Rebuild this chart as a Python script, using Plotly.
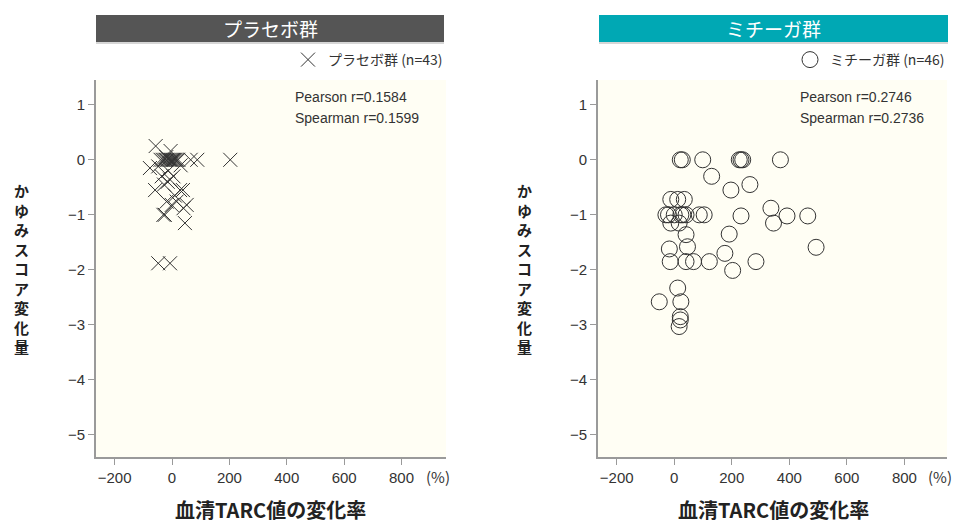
import plotly.graph_objects as go

# プラセボ群 (n=43): TARC change rate (%) vs itch score change
placebo_x = [-40, -33, -27, -22, -17, -12, -8, -4, 0, 4, 8, 12, 17, 22, 65, 88, 203,
             -57, -5, -77, -48, -13, -36, 5, -7, -28, -59, 38, -19, 16, -1, 51, 40,
             -30, -25, 45, -48, -7, 10, -15, 30, -20, 28]
placebo_y = [0, 0, 0, 0, 0, 0, 0, 0, 0, 0, 0, 0, 0, 0, 0, 0, 0,
             0.25, 0.16, -0.15, -0.12, -0.2, -0.3, -0.3, -0.36, -0.45, -0.55, -0.55, -0.76, -0.76, -0.82, -0.82, -0.88,
             -1.0, -1.0, -1.15, -1.88, -1.88, -0.65, -0.4, -0.1, 0.05, -0.55]

# ミチーガ群 (n=46)
mitchga_x = [21, 28, 99, 226, 232, 238, 369, 130, 197, 263, 336, 392, 464, 232, 345, 493,
             -12, 12, 35, -29, -20, 0, 23, 41, 87, 104, 30, -12, 17, 41, 191, -17, 46, 176,
             -14, 41, 67, 122, 284, 203, 12, -52, 23, 21, 21, 17]
mitchga_y = [0, 0, 0, 0, 0, 0, 0, -0.30, -0.55, -0.45, -0.88, -1.02, -1.02, -1.02, -1.15, -1.59,
             -0.72, -0.72, -0.72, -1.0, -1.0, -1.0, -1.0, -1.0, -1.0, -1.0, -1.0, -1.15, -1.15, -1.36, -1.35, -1.62, -1.58, -1.70,
             -1.85, -1.85, -1.85, -1.85, -1.85, -2.01, -2.33, -2.58, -2.58, -2.85, -2.91, -3.03]

x_ticks = [-200, 0, 200, 400, 600, 800]
x_ticktext = ["−200", "0", "200", "400", "600", "800"]
y_ticks = [1, 0, -1, -2, -3, -4, -5]
y_ticktext = ["1", "0", "−1", "−2", "−3", "−4", "−5"]

# page has an 8px body margin, so the figure is drawn 8px in from the corner
OFF = 8
W, H = 972 - OFF, 526 - OFF
FONT = "Noto Sans CJK JP"
NUMFONT = "Liberation Sans"

def px(v):
    return (v - OFF) / W

def py(v):
    return 1 - (v - OFF) / H

fig = go.Figure()

fig.add_trace(go.Scatter(
    x=placebo_x, y=placebo_y, mode="markers", name="プラセボ群 (n=43)",
    marker=dict(symbol="x-thin-open", size=14, color="#333333", line=dict(color="#333333", width=1)),
    xaxis="x", yaxis="y", legend="legend"))
fig.add_trace(go.Scatter(
    x=mitchga_x, y=mitchga_y, mode="markers", name="ミチーガ群 (n=46)",
    marker=dict(symbol="circle-open", size=16, color="#333333", line=dict(color="#333333", width=1)),
    xaxis="x2", yaxis="y2", legend="legend2"))

axis_common = dict(showgrid=False, zeroline=False, showline=True, linecolor="#9a9a9a", linewidth=2,
                   ticks="outside", tickcolor="#9a9a9a", ticklen=6, tickwidth=1,
                   tickfont=dict(family=NUMFONT, size=15, color="#333333"))

ydom = [py(457), py(80)]
fig.update_layout(
    width=W, height=H,
    margin=dict(l=0, r=0, t=0, b=0),
    paper_bgcolor="white", plot_bgcolor="#FFFEF4",
    font=dict(family=FONT, color="#333333"),
    xaxis=dict(domain=[px(96), px(446)], range=[-265, 955], tickvals=x_ticks, ticktext=x_ticktext,
               anchor="y", **axis_common),
    yaxis=dict(domain=ydom, range=[-5.4, 1.45], tickvals=y_ticks, ticktext=y_ticktext,
               anchor="x", **axis_common),
    xaxis2=dict(domain=[px(598), px(947)], range=[-265, 948], tickvals=x_ticks, ticktext=x_ticktext,
                anchor="y2", **axis_common),
    yaxis2=dict(domain=ydom, range=[-5.4, 1.45], tickvals=y_ticks, ticktext=y_ticktext,
                anchor="x2", **axis_common),
    legend=dict(x=px(448), y=py(60), xanchor="right", yanchor="middle",
                bgcolor="rgba(0,0,0,0)", font=dict(family=FONT, size=14, color="#333333"),
                itemsizing="trace"),
    legend2=dict(x=px(950), y=py(60), xanchor="right", yanchor="middle",
                 bgcolor="rgba(0,0,0,0)", font=dict(family=FONT, size=14, color="#333333"),
                 itemsizing="trace"),
    showlegend=True,
)

def note(x, y, text, size, color="#333333", xanchor="center", family=FONT):
    fig.add_annotation(x=px(x), y=py(y), xref="paper", yref="paper", showarrow=False,
                       xanchor=xanchor, yanchor="middle", text=text,
                       font=dict(family=family, size=size, color=color))

# header bars
for x0, x1, color, label in [(96, 444, "#555555", "プラセボ群"), (599, 948, "#00A8B4", "ミチーガ群")]:
    fig.add_shape(type="rect", xref="paper", yref="paper", x0=px(x0), x1=px(x1), y0=py(42), y1=py(15),
                  fillcolor=color, line=dict(width=0), layer="below")
    fig.add_shape(type="line", xref="paper", yref="paper", x0=px(x0), x1=px(x1), y0=py(43), y1=py(43),
                  line=dict(color="#c8c8c8", width=1.5))
    note((x0 + x1) / 2, 28.5, label, 19, "white")

# correlation text
for x0, pear, spear in [(293, "0.1584", "0.1599"), (798, "0.2746", "0.2736")]:
    note(x0, 97, "Pearson r=" + pear, 14, xanchor="left", family=NUMFONT)
    note(x0, 118, "Spearman r=" + spear, 14, xanchor="left", family=NUMFONT)

# axis titles (vertical, stacked characters) and (%) unit
ytitle = "<br>".join(list("かゆみスコア変化量"))
for yx, xt, pct in [(21, 270, 438), (524, 773, 940)]:
    note(yx, 268, "<b>" + ytitle + "</b>", 15, "#222222")
    note(xt, 509, "<b>血清TARC値の変化率</b>", 20, "#222222")
    note(pct, 476, "(%)", 15)

fig.write_html("out.html")
